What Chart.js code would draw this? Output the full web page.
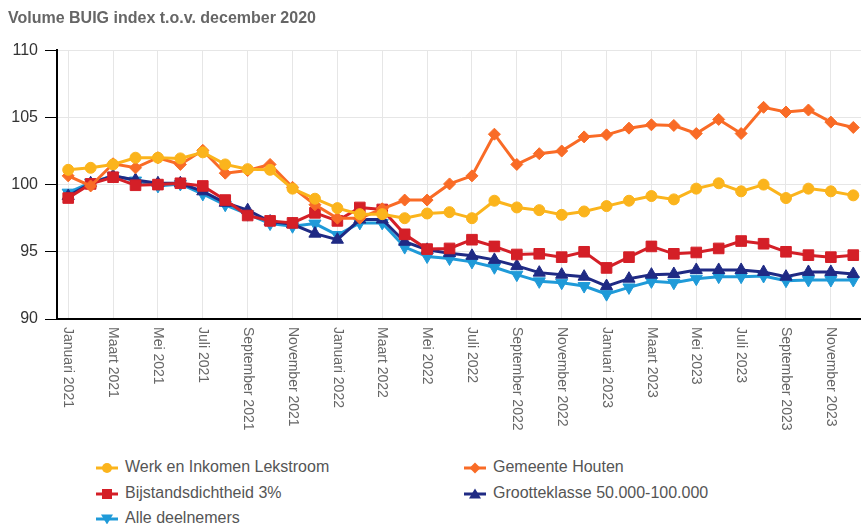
<!DOCTYPE html>
<html lang="nl">
<head>
<meta charset="utf-8">
<script src="https://cdn.jsdelivr.net/npm/chart.js@4/dist/chart.umd.min.js"></script>
<style>
  html, body { margin: 0; padding: 0; width: 861px; height: 524px; overflow: hidden; background: #fff; }
  #wrap { position: absolute; left: 0; top: 0; width: 873px; height: 445px; }
  .leg { position: absolute; height: 20px; line-height: 20px; font: 16px "Liberation Sans", Arial, sans-serif; color: #555; white-space: nowrap; }
  .leg svg { position: absolute; left: 0; top: 3px; }
  .leg span { position: absolute; left: 30px; top: 0; }
</style>
</head>
<body>
<div id="wrap"><canvas id="buigChart"></canvas></div>
<div id="legenda"></div>
<script>
const maanden = ['Januari', 'Februari', 'Maart', 'April', 'Mei', 'Juni', 'Juli', 'Augustus', 'September', 'Oktober', 'November', 'December'];
const jaren = [2021, 2022, 2023];
const labels = [];
jaren.forEach(j => maanden.forEach(m => labels.push(m + ' ' + j)));

const werkEnInkomen = [101.1, 101.25, 101.5, 102.0, 102.0, 101.95, 102.4, 101.5, 101.15, 101.1, 99.7, 98.95, 98.25, 97.8, 97.8, 97.5, 97.85, 97.95, 97.5, 98.8, 98.3, 98.1, 97.75, 98.0, 98.4, 98.8, 99.15, 98.9, 99.7, 100.1, 99.5, 100.0, 99.0, 99.7, 99.5, 99.2];
const gemeenteHouten = [100.65, 99.9, 101.55, 101.25, 102.0, 101.5, 102.55, 100.85, 101.05, 101.5, 99.8, 98.5, 97.5, 97.5, 98.2, 98.85, 98.85, 100.05, 100.65, 103.75, 101.5, 102.3, 102.5, 103.55, 103.7, 104.2, 104.45, 104.4, 103.8, 104.85, 103.8, 105.75, 105.4, 105.55, 104.65, 104.25];
const bijstandsdichtheid = [99.0, 100.05, 100.55, 99.95, 100.0, 100.1, 99.9, 98.85, 97.7, 97.3, 97.15, 97.9, 97.3, 98.3, 98.15, 96.3, 95.2, 95.25, 95.9, 95.4, 94.8, 94.85, 94.6, 95.0, 93.8, 94.6, 95.4, 94.85, 94.95, 95.25, 95.8, 95.6, 95.0, 94.75, 94.6, 94.75];
const grootteklasse = [99.15, 100.1, 100.65, 100.35, 100.1, 100.1, 99.5, 98.65, 98.1, 97.25, 97.05, 96.35, 95.9, 97.4, 97.4, 95.75, 95.15, 94.9, 94.7, 94.4, 93.95, 93.45, 93.3, 93.15, 92.45, 93.0, 93.3, 93.35, 93.65, 93.65, 93.65, 93.5, 93.15, 93.5, 93.5, 93.35];
const alleDeelnemers = [99.4, 100.15, 100.65, 100.3, 99.9, 100.05, 99.3, 98.5, 97.8, 97.1, 96.9, 97.1, 96.25, 97.15, 97.15, 95.35, 94.65, 94.5, 94.25, 93.85, 93.3, 92.8, 92.7, 92.45, 91.85, 92.35, 92.8, 92.7, 93.0, 93.15, 93.15, 93.2, 92.85, 92.9, 92.9, 92.9];
const yTicks = [90, 95, 100, 105, 110];

const kleuren = {
  werk: '#fbb41c',
  houten: '#f96b26',
  bijstand: '#d41f27',
  groot: '#1f2a84',
  alle: '#1f9ad8'
};

function reeks(label, data, kleur, stijl, radius, rotatie) {
  return {
    label: label,
    data: data,
    borderColor: kleur,
    backgroundColor: kleur,
    borderWidth: 3,
    pointStyle: stijl,
    pointRadius: radius,
    pointHoverRadius: radius,
    pointRotation: rotatie || 0,
    pointBorderWidth: 1,
    tension: 0
  };
}

// x-as labels van boven naar beneden, zoals in het origineel
const xLabelsPlugin = {
  id: 'xLabels',
  afterDraw(chart) {
    const sx = chart.scales.x;
    const c = chart.ctx;
    c.save();
    c.font = '14px "Liberation Sans", Arial, sans-serif';
    c.fillStyle = '#666';
    c.textAlign = 'left';
    c.textBaseline = 'middle';
    labels.forEach((lab, i) => {
      if (i % 2 !== 0) return;
      const px = sx.getPixelForValue(i);
      c.save();
      c.translate(px, chart.chartArea.bottom + 8);
      c.rotate(Math.PI / 2);
      c.fillText(lab, 0, 0);
      c.restore();
    });
    c.restore();
  }
};

const ctx = document.getElementById('buigChart').getContext('2d');
const chart = new Chart(ctx, {
  type: 'line',
  data: {
    labels: labels,
    datasets: [
      reeks('Werk en Inkomen Lekstroom', werkEnInkomen, kleuren.werk, 'circle', 5.5),
      reeks('Gemeente Houten', gemeenteHouten, kleuren.houten, 'rectRot', 6),
      reeks('Bijstandsdichtheid 3%', bijstandsdichtheid, kleuren.bijstand, 'rect', 7.5),
      reeks('Grootteklasse 50.000-100.000', grootteklasse, kleuren.groot, 'triangle', 7),
      reeks('Alle deelnemers', alleDeelnemers, kleuren.alle, 'triangle', 7, 180)
    ]
  },
  options: {
    responsive: true,
    maintainAspectRatio: false,
    animation: false,
    layout: { padding: { left: 8, right: 0, top: 0, bottom: 0 } },
    plugins: {
      legend: { display: false },
      tooltip: { enabled: false },
      title: {
        display: true,
        text: 'Volume BUIG index t.o.v. december 2020',
        align: 'start',
        color: '#666',
        font: { family: '"Liberation Sans", Arial, sans-serif', size: 16, weight: 'bold' },
        padding: { top: 9, bottom: 22 }
      }
    },
    scales: {
      x: {
        offset: true,
        ticks: { display: false },
        grid: {
          drawTicks: false,
          color: c => (c.index % 2 === 0 ? '#e6e6e6' : 'rgba(0,0,0,0)'),
          lineWidth: 1
        },
        border: { color: '#000', width: 2 },
        afterFit: s => { s.height = 126; }
      },
      y: {
        min: 90,
        max: 110,
        afterBuildTicks: s => { s.ticks = yTicks.map(v => ({ value: v })); },
        ticks: {
          color: '#333',
          padding: 7,
          font: { family: '"Liberation Sans", Arial, sans-serif', size: 16 }
        },
        grid: { color: '#e6e6e6', tickColor: '#000', tickLength: 12, lineWidth: 1 },
        border: { color: '#000', width: 2 },
        afterFit: s => { s.width = 49; }
      }
    }
  },
  plugins: [xLabelsPlugin]
});

// legenda in twee kolommen
function markerSvg(ds) {
  const k = ds.borderColor;
  let vorm = '';
  if (ds.pointStyle === 'circle') vorm = `<circle cx="12" cy="7" r="5" fill="${k}"/>`;
  else if (ds.pointStyle === 'rectRot') vorm = `<polygon points="12,1.5 17.5,7 12,12.5 6.5,7" fill="${k}"/>`;
  else if (ds.pointStyle === 'rect') vorm = `<rect x="7" y="2" width="10" height="10" fill="${k}"/>`;
  else if (ds.pointRotation === 180) vorm = `<polygon points="6,2.5 18,2.5 12,12.5" fill="${k}"/>`;
  else vorm = `<polygon points="12,1.5 18,11.5 6,11.5" fill="${k}"/>`;
  return `<svg width="24" height="14"><line x1="1" y1="7" x2="23" y2="7" stroke="${k}" stroke-width="3"/>${vorm}</svg>`;
}
const kolomX = [95, 463];
const rijY = [458, 484, 509];
const legenda = document.getElementById('legenda');
chart.data.datasets.forEach((ds, i) => {
  const el = document.createElement('div');
  el.className = 'leg';
  el.style.left = kolomX[i % 2] + 'px';
  el.style.top = rijY[Math.floor(i / 2)] + 'px';
  el.innerHTML = markerSvg(ds) + '<span>' + ds.label + '</span>';
  legenda.appendChild(el);
});
</script>
</body>
</html>
